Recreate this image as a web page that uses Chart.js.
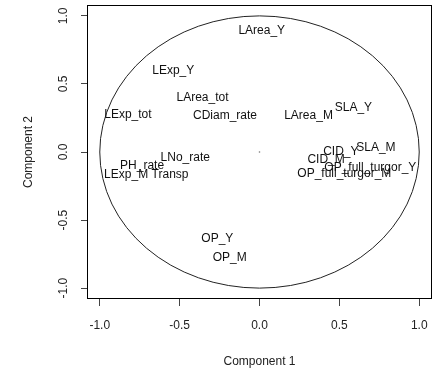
<!DOCTYPE html>
<html>
<head>
<meta charset="utf-8">
<script src="https://cdn.jsdelivr.net/npm/chart.js@4"></script>
<style>
  html, body { margin: 0; padding: 0; background: #fff; }
  canvas { display: block; }
</style>
</head>
<body>
<canvas id="pcaChart" width="436" height="374"></canvas>
<script>
// variable names and their loadings on the first two components
const varNames = ['LArea_Y', 'LExp_Y', 'LArea_tot', 'LExp_tot', 'CDiam_rate', 'LArea_M', 'SLA_Y',
  'CID_Y', 'SLA_M', 'CID_M', 'OP_full_turgor_Y', 'OP_full_turgor_M', 'LNo_rate', 'PH_rate',
  'LExp_M', 'Transp', 'OP_Y', 'OP_M'];
const comp1 = [0.014, -0.540, -0.357, -0.824, -0.216, 0.307, 0.588,
  0.509, 0.729, 0.417, 0.694, 0.531, -0.465, -0.735,
  -0.835, -0.560, -0.264, -0.187];
const comp2 = [0.889, 0.594, 0.402, 0.275, 0.268, 0.268, 0.324,
  0.005, 0.029, -0.057, -0.118, -0.162, -0.044, -0.101,
  -0.167, -0.167, -0.634, -0.777];
const tickValues = [-1, -0.5, 0, 0.5, 1];
const axisMin = -1.08, axisMax = 1.08;

const FONT = 'Liberation Sans, Arial, sans-serif';

// unit circle + frame box
const circlePlugin = {
  id: 'circleBox',
  beforeDatasetsDraw(chart) {
    const { ctx, chartArea, scales: { x, y } } = chart;
    const cx = x.getPixelForValue(0), cy = y.getPixelForValue(0);
    const rx = x.getPixelForValue(1) - cx;
    const ry = cy - y.getPixelForValue(1);
    ctx.save();
    ctx.strokeStyle = '#222';
    ctx.lineWidth = 1;
    ctx.beginPath();
    ctx.ellipse(cx, cy, rx, ry, 0, 0, Math.PI * 2);
    ctx.stroke();
    ctx.strokeStyle = '#000';
    ctx.strokeRect(chartArea.left + 0.5, chartArea.top + 0.5,
      chartArea.right - chartArea.left - 1, chartArea.bottom - chartArea.top - 1);
    ctx.restore();
  }
};

// variable names written at their points
const labelPlugin = {
  id: 'varLabels',
  afterDatasetsDraw(chart) {
    const { ctx } = chart;
    const meta = chart.getDatasetMeta(0);
    ctx.save();
    ctx.font = '12px ' + FONT;
    ctx.fillStyle = '#111';
    ctx.textAlign = 'center';
    ctx.textBaseline = 'middle';
    meta.data.forEach((pt, i) => {
      ctx.fillText(varNames[i], pt.x, pt.y);
    });
    ctx.restore();
  }
};

const points = varNames.map((n, i) => ({ x: comp1[i], y: comp2[i] }));

new Chart(document.getElementById('pcaChart'), {
  type: 'scatter',
  data: {
    datasets: [
      { data: points, pointRadius: 0, pointHoverRadius: 0 },
      { data: [{ x: 0, y: 0 }], pointRadius: 0.8, backgroundColor: '#777', borderColor: '#777', borderWidth: 0 }
    ]
  },
  options: {
    responsive: false,
    devicePixelRatio: 1,
    animation: false,
    events: [],
    layout: { padding: { top: 5, right: 2, left: 0, bottom: 0 } },
    plugins: { legend: { display: false }, tooltip: { enabled: false } },
    scales: {
      x: {
        type: 'linear',
        min: axisMin, max: axisMax,
        afterFit(scale) {
          scale.height = 75;
          scale.paddingLeft = 0;
          scale.paddingRight = 0;
        },
        afterBuildTicks(scale) { scale.ticks = tickValues.map(v => ({ value: v })); },
        grid: { drawOnChartArea: false, drawTicks: true, tickLength: 7, color: '#444' },
        border: { display: false },
        ticks: {
          autoSkip: false, maxRotation: 0, padding: 12,
          color: '#222', font: { family: FONT, size: 12 },
          callback: v => v.toFixed(1)
        },
        title: {
          display: true, text: 'Component 1', color: '#222',
          font: { family: FONT, size: 12 }, padding: { bottom: 5, top: 0 }
        }
      },
      y: {
        type: 'linear',
        min: axisMin, max: axisMax,
        afterFit(scale) {
          scale.width = 87;
          scale.paddingTop = 0;
          scale.paddingBottom = 0;
        },
        afterBuildTicks(scale) { scale.ticks = tickValues.map(v => ({ value: v })); },
        grid: { drawOnChartArea: false, drawTicks: true, tickLength: 6, color: '#444' },
        border: { display: false },
        ticks: {
          autoSkip: false, minRotation: 90, maxRotation: 90, padding: 7,
          crossAlign: 'center',
          color: '#222', font: { family: FONT, size: 12 },
          callback: v => v.toFixed(1)
        },
        title: {
          display: true, text: 'Component 2', color: '#222',
          font: { family: FONT, size: 12 }, padding: { top: 21, bottom: 0 }
        }
      }
    }
  },
  plugins: [circlePlugin, labelPlugin]
});
</script>
</body>
</html>
